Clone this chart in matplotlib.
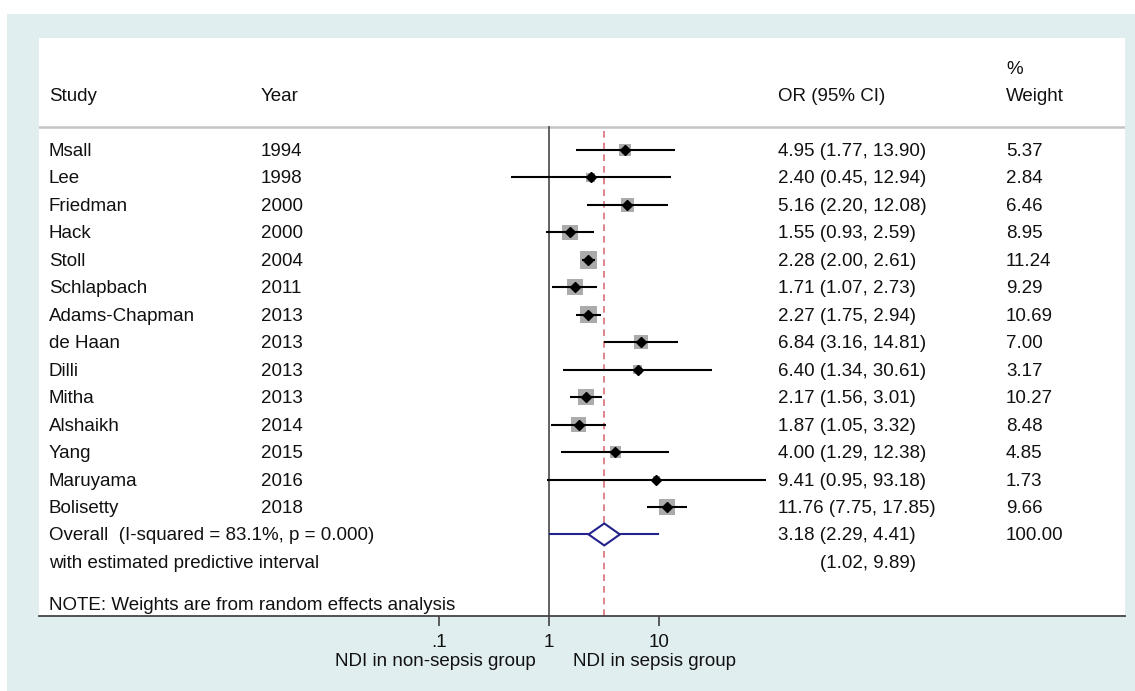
import matplotlib
matplotlib.use('Agg')
import matplotlib.pyplot as plt
from matplotlib.patches import Rectangle, Polygon
import matplotlib.transforms as mtransforms

plt.rcParams['font.family'] = ['Liberation Sans', 'DejaVu Sans']

# Study data
studies = ['Msall', 'Lee', 'Friedman', 'Hack', 'Stoll', 'Schlapbach', 'Adams-Chapman',
           'de Haan', 'Dilli', 'Mitha', 'Alshaikh', 'Yang', 'Maruyama', 'Bolisetty']
years = [1994, 1998, 2000, 2000, 2004, 2011, 2013, 2013, 2013, 2013, 2014, 2015, 2016, 2018]
odds = [4.95, 2.40, 5.16, 1.55, 2.28, 1.71, 2.27, 6.84, 6.40, 2.17, 1.87, 4.00, 9.41, 11.76]
ci_low = [1.77, 0.45, 2.20, 0.93, 2.00, 1.07, 1.75, 3.16, 1.34, 1.56, 1.05, 1.29, 0.95, 7.75]
ci_high = [13.90, 12.94, 12.08, 2.59, 2.61, 2.73, 2.94, 14.81, 30.61, 3.01, 3.32, 12.38, 93.18, 17.85]
weights = [5.37, 2.84, 6.46, 8.95, 11.24, 9.29, 10.69, 7.00, 3.17, 10.27, 8.48, 4.85, 1.73, 9.66]

overall_or = 3.18
overall_ci = (2.29, 4.41)
pred_int = (1.02, 9.89)
overall_label = 'Overall  (I-squared = 83.1%, p = 0.000)'

xticks = [0.1, 1, 10]
xtick_labels = ['.1', '1', '10']

W, H = 1135, 691
fs = 13.5
txt = '#111111'

fig = plt.figure(figsize=(W / 100, H / 100), dpi=100)
fig.patches.append(Rectangle((7 / W, 0), 1, 1 - 14 / H, transform=fig.transFigure,
                             facecolor='#e1eef0', edgecolor='none', zorder=-10))

# white panel: x 39..1125 px, y 38..616 px
px_l, px_r, px_t, px_b = 39, 1125, 38, 616
ax = fig.add_axes([px_l / W, 1 - px_b / H, (px_r - px_l) / W, (px_b - px_t) / H])
ax.set_facecolor('white')

row_h = 27.46
y0 = 150
def row(py):
    return (py - y0) / row_h

ax.set_xscale('log')
dec = 110.0
ax.set_xlim(10 ** ((px_l - 549) / dec), 10 ** ((px_r - 549) / dec))
ax.set_ylim(row(px_b), row(px_t))

for s in ['top', 'left', 'right']:
    ax.spines[s].set_visible(False)
ax.spines['bottom'].set_color('#444444')
ax.spines['bottom'].set_linewidth(1.3)
ax.set_yticks([])
ax.set_xticks(xticks)
ax.set_xticklabels(xtick_labels, fontsize=fs, color=txt)
ax.minorticks_off()
ax.tick_params(axis='x', direction='out', length=7, width=1.2, color='#444444', pad=6)

def colx(px):
    return (px - px_l) / (px_r - px_l)

tr = mtransforms.blended_transform_factory(ax.transAxes, ax.transData)
toff = 1.5 / row_h  # small nudge so text sits like the original

def put(px, y, s, **kw):
    ax.text(colx(px), y + toff, s, transform=tr, fontsize=fs, color=txt, va='center', **kw)

# header
hy = row(95)
put(49, hy, 'Study')
put(261, hy, 'Year')
put(778, hy, 'OR (95% CI)')
put(1006, row(68), '%')
put(1006, hy, 'Weight')
ax.axhline(row(127), color='#c4c4c4', lw=1.8)

top_frac = (px_b - 127) / (px_b - px_t)
ax.axvline(1, ymin=0, ymax=top_frac, color='#555555', lw=1.3)
ax.axvline(overall_or, ymin=0, ymax=top_frac, color='#d9707c', lw=1.2, dashes=(4, 3))

rows = list(range(len(studies)))
ax.hlines(rows, ci_low, ci_high, color='black', lw=1.5, zorder=3)
ax.scatter(odds, rows, marker='s', s=[14 * w for w in weights], color='#ababab',
           edgecolor='none', zorder=2)
ax.plot(odds, rows, 'D', color='black', markersize=5.6, zorder=4, linestyle='none')

for i in rows:
    put(49, i, studies[i])
    put(261, i, str(years[i]))
    put(778, i, f'{odds[i]:.2f} ({ci_low[i]:.2f}, {ci_high[i]:.2f})')
    put(1006, i, f'{weights[i]:.2f}')

# overall
oy = len(studies)
navy = '#22228a'
ax.plot(pred_int, [oy, oy], color=navy, lw=1.5, zorder=3)
dh = 11 / row_h
ax.add_patch(Polygon([(overall_ci[0], oy), (overall_or, oy - dh), (overall_ci[1], oy),
                      (overall_or, oy + dh)], closed=True, facecolor='white',
                     edgecolor=navy, lw=1.5, zorder=4))
put(49, oy, overall_label)
put(778, oy, f'{overall_or:.2f} ({overall_ci[0]:.2f}, {overall_ci[1]:.2f})')
put(1006, oy, '100.00')

py = oy + 1
put(49, py, 'with estimated predictive interval')
put(916, py, f'({pred_int[0]:.2f}, {pred_int[1]:.2f})', ha='right')

put(49, row(604), 'NOTE: Weights are from random effects analysis')

fig.text(536 / W, 1 - 662 / H, 'NDI in non-sepsis group', fontsize=fs, color=txt,
         ha='right', va='center')
fig.text(573 / W, 1 - 662 / H, 'NDI in sepsis group', fontsize=fs, color=txt,
         ha='left', va='center')

fig.savefig('out.png', dpi=100)
